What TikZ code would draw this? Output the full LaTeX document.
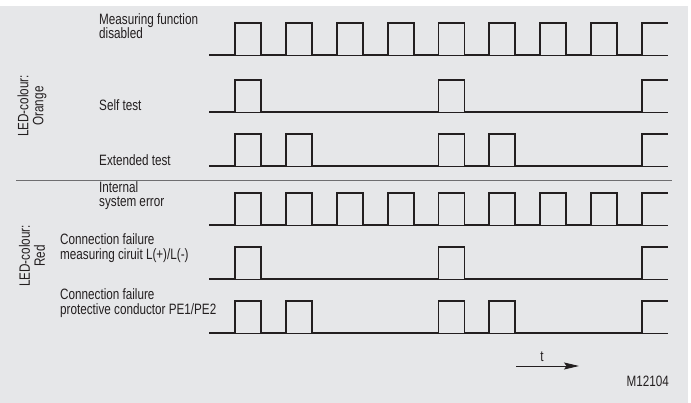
\documentclass[tikz,border=0pt]{standalone}
\usepackage{fontspec}
\setmainfont{Liberation Sans}[FakeStretch=0.78]
\usetikzlibrary{arrows.meta}
\definecolor{panelgray}{RGB}{230,231,233}
\definecolor{inkgray}{RGB}{35,31,32}
\definecolor{rulegray}{RGB}{110,110,112}
% one LED row: baseline y, list of pulse slots
\newcommand{\ledrow}[2]{%
  \draw[baseline line] (209,#1) -- (668,#1);
  \draw[wave] (209,#1) foreach \k in {#2} {
      -- ({235+50.875*\k},#1) -- ++(0,-32) -- ++(26,0) -- ++(0,32)
    } -- (642,#1) -- ++(0,-32) -- (668,#1-32);
}
\begin{document}
\begin{tikzpicture}[>=Stealth, x=1pt, y=-1pt,
    every node/.style={inner sep=0pt, text=inkgray},
    lbl/.style={anchor=base west, align=left, font=\fontsize{15}{14}\selectfont},
    lbl2/.style={lbl, font=\fontsize{15}{15.5}\selectfont},
    ledname/.style={rotate=90, align=center, font=\fontsize{15}{15}\selectfont},
    wave/.style={draw=inkgray, line width=1.8pt, line join=miter},
    baseline line/.style={draw=inkgray, line width=0.8pt}]
  \useasboundingbox (0,0) rectangle (691,403);
  \fill[panelgray] (0,6) rectangle (688,403);

  % LED colour groups
  \node[ledname] (orange) at (32,106) {LED-colour:\\Orange};
  \node[ledname] (red) at (32,256) {LED-colour:\\Red};
  \draw[rulegray, line width=0.8pt] (16,180) -- (672,180);

  % row labels
  \node[lbl] (disabled) at (99,39) {Measuring function\\disabled};
  \node[lbl] (selftest) at (99,111) {Self test};
  \node[lbl] (exttest) at (99,166) {Extended test};
  \node[lbl] (syserror) at (99,207) {Internal\\system error};
  \node[lbl2] (circuit) at (60,260) {Connection failure\\measuring ciruit L(+)/L(-)};
  \node[lbl2] (conductor) at (60,315) {Connection failure\\protective conductor PE1/PE2};

  % flashing patterns
  \ledrow{55}{0,1,2,3,4,5,6,7}
  \ledrow{112}{0,4}
  \ledrow{166}{0,1,4,5}
  \ledrow{225}{0,1,2,3,4,5,6,7}
  \ledrow{279}{0,4}
  \ledrow{333}{0,1,4,5}

  % time axis
  \coordinate (tstart) at (516,366);
  \coordinate (tend) at (579,366);
  \draw[->, >={Stealth[length=15pt, width=7pt, inset=2.5pt]}, inkgray, line width=0.9pt] (tstart) -- (tend);
  \node[anchor=base, font=\fontsize{15}{15}\selectfont] (tlabel) at (542,362) {t};
  \node[anchor=base east, font=\fontsize{15}{15}\selectfont] (figid) at (669,387) {M12104};
\end{tikzpicture}
\end{document}
